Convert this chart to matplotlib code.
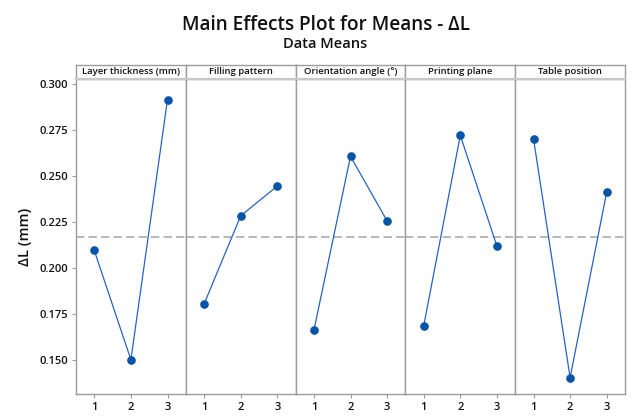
import matplotlib
matplotlib.use("Agg")
import matplotlib.pyplot as plt

plt.rcParams['font.family'] = ['Open Sans', 'DejaVu Sans']

factors = ["Layer thickness (mm)", "Filling pattern", "Orientation angle (°)",
           "Printing plane", "Table position"]
levels = [1, 2, 3]
layer_thickness = [0.2096, 0.1503, 0.2915]
filling_pattern = [0.1806, 0.2284, 0.2446]
orientation_angle = [0.1663, 0.2607, 0.2257]
printing_plane = [0.1687, 0.2721, 0.2120]
table_position = [0.2703, 0.1406, 0.2413]
means = [layer_thickness, filling_pattern, orientation_angle, printing_plane, table_position]
grand_mean = sum(layer_thickness) / 3
yticks = [0.150, 0.175, 0.200, 0.225, 0.250, 0.275, 0.300]

W, H = 630, 416
fig = plt.figure(figsize=(W / 100, H / 100), dpi=100)

left_px, right_px = 76, 625
bottom_px, top_px, head_px = 394, 79, 65
pw = (right_px - left_px) / len(factors)
edge = '#9c9c9c'
line_c = '#2762c2'
dot_c = '#0754a8'

fig.text(326 / W, 1 - 25 / H, "Main Effects Plot for Means - ΔL", ha='center', va='center',
         fontsize=13.7, weight='semibold', color='#111111')
fig.text(325 / W, 1 - 44 / H, "Data Means", ha='center', va='center',
         fontsize=10.5, weight='semibold', color='#111111')

axes = []
for i, (name, vals) in enumerate(zip(factors, means)):
    x0 = (left_px + i * pw) / W
    ax = fig.add_axes([x0, 1 - bottom_px / H, pw / W, (bottom_px - top_px) / H])
    ax.axhline(grand_mean, color='#ababab', lw=1.2, ls=(0, (5, 2.5)), zorder=1)
    ax.plot(levels, vals, color=line_c, lw=0.9, zorder=2)
    ax.plot(levels, vals, 'o', color=dot_c, ms=5.2, zorder=3)
    ax.set_xlim(0.5, 3.5)
    ax.set_ylim(0.1317, 0.3027)
    ax.set_xticks(levels)
    ax.set_xticklabels([str(l) for l in levels])
    ax.tick_params(axis='x', length=3, width=0.8, color=edge, labelsize=8, pad=3, labelcolor='#111111')
    for lab in ax.get_xticklabels():
        lab.set_fontweight('semibold')
    if i == 0:
        ax.set_yticks(yticks)
        ax.set_yticklabels(["%.3f" % t for t in yticks], fontweight='semibold')
        ax.tick_params(axis='y', length=3, width=0.8, color=edge, labelsize=8, pad=3, labelcolor='#111111')
        ax.set_ylabel("ΔL (mm)", fontsize=10.5, weight='semibold', color='#111111', labelpad=5)
    else:
        ax.set_yticks([])
    for s in ax.spines.values():
        s.set_color(edge)
        s.set_linewidth(1.0)
    axes.append(ax)

    # header strip
    hx = fig.add_axes([x0, 1 - top_px / H, pw / W, (top_px - head_px) / H])
    hx.set_xticks([])
    hx.set_yticks([])
    for s in hx.spines.values():
        s.set_color(edge)
        s.set_linewidth(1.0)
    hx.spines['bottom'].set_color('#c8c8c8')
    hx.spines['bottom'].set_linewidth(1.6)
    hx.text(0.5, 0.5, name, ha='center', va='center', fontsize=6.8, weight='semibold',
            color='#111111', transform=hx.transAxes)

fig.savefig("out.png", dpi=100)
